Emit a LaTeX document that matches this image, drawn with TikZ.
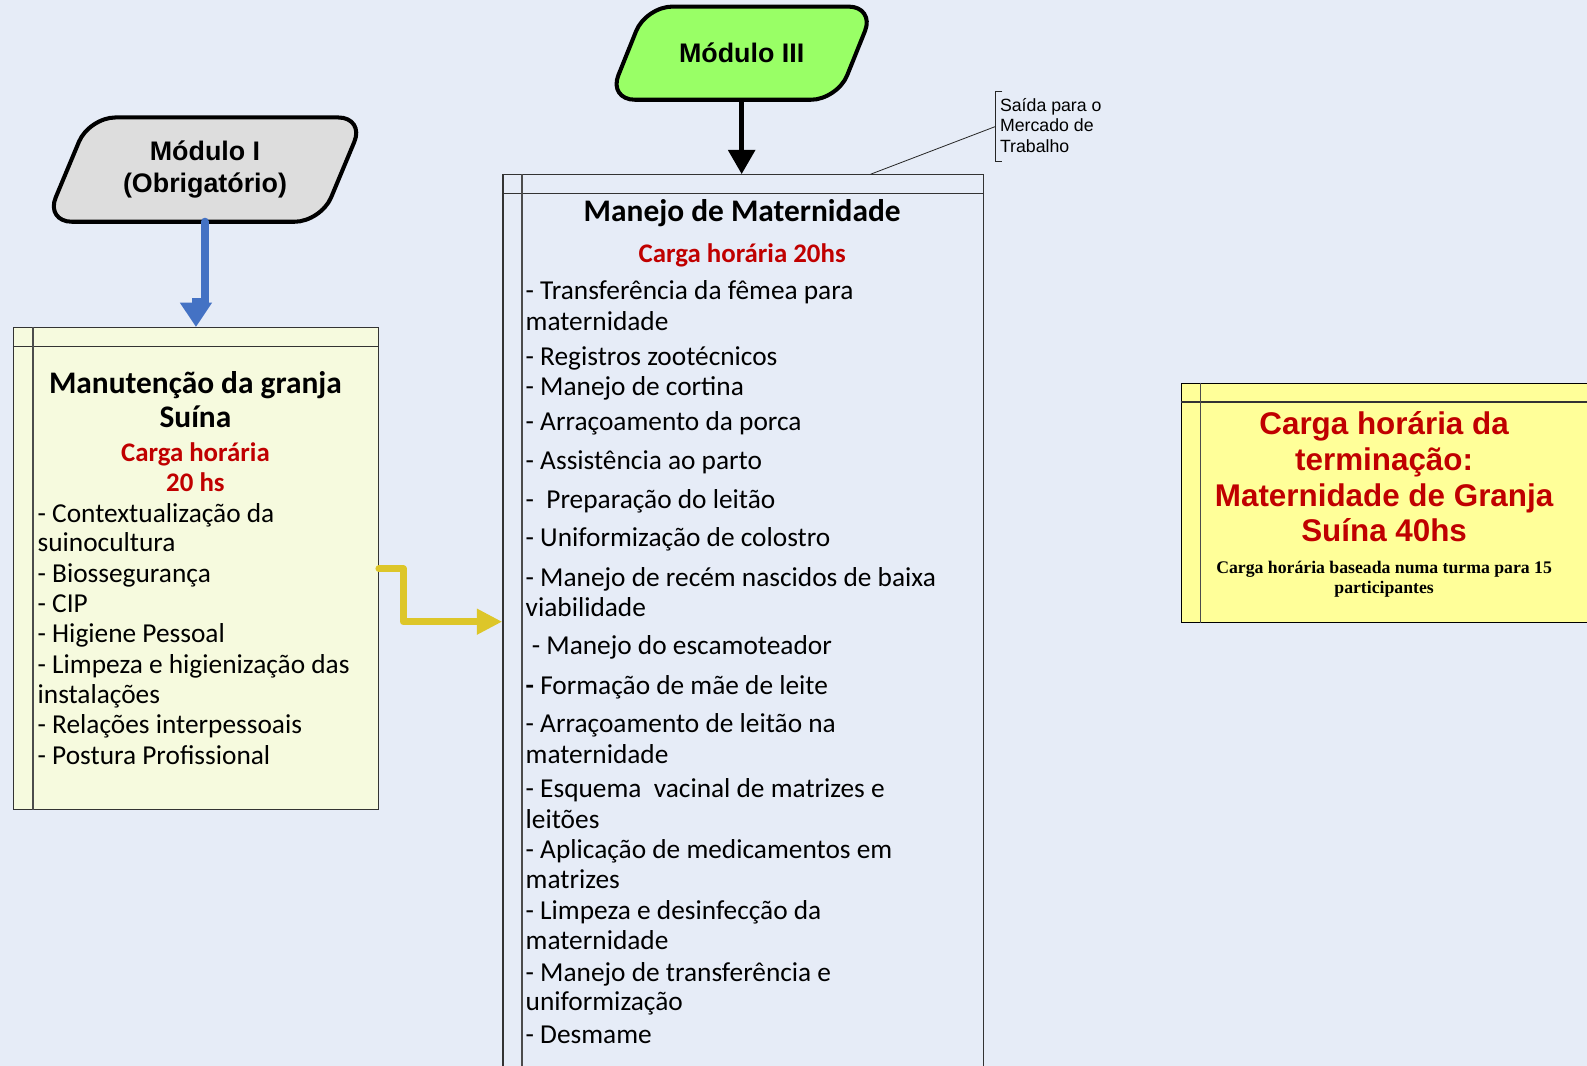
\documentclass[tikz,border=0pt]{standalone}
\usepackage{fontspec}
\setmainfont{Carlito}
\newfontfamily\arialFont{Liberation Sans}
\newfontfamily\timesFont{Liberation Serif}
\usetikzlibrary{arrows.meta}

\definecolor{bgBlue}{RGB}{230,236,247}
\definecolor{modGray}{RGB}{221,221,221}
\definecolor{modGreen}{RGB}{153,255,102}
\definecolor{boxCream}{RGB}{246,250,222}
\definecolor{boxYellow}{RGB}{255,255,153}
\definecolor{darkRed}{RGB}{192,0,0}
\definecolor{arrowBlue}{RGB}{68,114,196}
\definecolor{arrowYellow}{RGB}{221,198,41}

\tikzset{
  moduleArea/.style={inner sep=0pt, outer sep=2pt},
  moduleLine/.style={draw=black, line width=4pt, rounded corners=26pt},
  moduleText/.style={align=center, inner sep=0pt,
    font=\arialFont\bfseries\fontsize{26.5pt}{31pt}\selectfont},
  boxFrame/.style={draw=black!80, line width=1.3pt, anchor=north west, inner sep=0pt},
  headLine/.style={draw=black!80, line width=1.3pt},
  sideLine/.style={draw=black!70, line width=1.6pt},
  titleText/.style={anchor=mid, yshift=-7pt, inner sep=0pt, font=\bfseries\fontsize{31pt}{34pt}\selectfont},
  redText/.style={anchor=mid, yshift=-7pt, inner sep=0pt, text=darkRed, font=\bfseries\fontsize{26.5pt}{30pt}\selectfont},
  itemText/.style={anchor=mid west, yshift=-6.5pt, inner sep=0pt, font=\fontsize{27pt}{30pt}\selectfont},
  blueArrow/.style={draw=arrowBlue, line width=8pt, line cap=round, -{Triangle[length=24pt,width=30pt]}},
  blackArrow/.style={draw=black, line width=5pt, -{Triangle[length=24pt,width=26pt]}},
  yellowArrow/.style={draw=arrowYellow, line width=7pt, line cap=round, line join=round, -{Triangle[length=25pt,width=24pt]}},
  calloutLine/.style={draw=black!85, line width=0.8pt},
  calloutText/.style={anchor=west, align=left, inner sep=0pt, font=\arialFont\fontsize{17.5pt}{20pt}\selectfont},
  loadText/.style={align=center, yshift=-3pt, inner sep=0pt, text=darkRed, font=\arialFont\bfseries\fontsize{31pt}{35.3pt}\selectfont},
  noteText/.style={align=center, yshift=-3pt, inner sep=0pt, font=\timesFont\bfseries\fontsize{17.5pt}{20pt}\selectfont}
}

\begin{document}
\begin{tikzpicture}[x=1pt,y=-1pt]
  \newcommand{\headDrop}{19pt}  % header strip
  \newcommand{\sideGap}{19.8pt} % side strip

  \useasboundingbox (0,0) rectangle (1567.4,1052.8);
  \clip (0,0) rectangle (1567.4,1052.8);
  \fill[bgBlue] (0,0) rectangle (1567.4,1052.8); % background

  % modules
  \node[moduleArea, minimum width=311pt, minimum height=99pt] (mod1) at (202.5,167.5) {};
  \draw[moduleLine, fill=modGray] ([xshift=43pt]mod1.north west) -- (mod1.north east)
    -- ([xshift=-43pt]mod1.south east) -- (mod1.south west) -- cycle;
  \node[moduleText] (mod1Text) at (mod1.center) {Módulo I\\(Obrigatório)};

  \node[moduleArea, minimum width=259pt, minimum height=88pt] (mod3) at (732.5,52.5) {};
  \draw[moduleLine, fill=modGreen] ([xshift=37pt]mod3.north west) -- (mod3.north east)
    -- ([xshift=-37pt]mod3.south east) -- (mod3.south west) -- cycle;
  \node[moduleText] (mod3Text) at (mod3.center) {Módulo III};

  % boxes
  \node[boxFrame, fill=boxCream, minimum width=360.2pt, minimum height=476pt] (manut) at (12.8,323) {};
  \node[boxFrame, minimum width=475pt, minimum height=900pt] (mater) at (496,172) {};
  \node[boxFrame, draw=black, fill=boxYellow, minimum width=450pt, minimum height=236pt] (termino) at (1166,378) {};

  \foreach \b in {manut,mater,termino}{
    \draw[headLine] ([yshift=-\headDrop]\b.north west) -- ([yshift=-\headDrop]\b.north east);
    \draw[sideLine] ([xshift=\sideGap]\b.north west) -- ([xshift=\sideGap]\b.south west);
  }

  % left box text
  \node[titleText] (manutTitleA) at (193,379) {Manutenção da granja};
  \node[titleText] (manutTitleB) at (193,413) {Suína};
  \node[redText] (manutLoadA) at (193,446) {Carga horária};
  \node[redText] (manutLoadB) at (193,476) {20 hs};
  \foreach \y/\txt [count=\i] in {507/{- Contextualização da}, 536/{suinocultura},
      566/{- Biossegurança}, 596/{- CIP}, 626/{- Higiene Pessoal},
      656/{- Limpeza e higienização das}, 686/{instalações},
      716/{- Relações interpessoais}, 746/{- Postura Profissional}}
    \node[itemText] (manutItem\i) at (37,\y) {\txt};

  % middle box text
  \node[titleText] (materTitle) at (733,209) {Manejo de Maternidade};
  \node[redText] (materLoad) at (733,250) {Carga horária 20hs};
  \foreach \y/\txt [count=\i] in {287/{- Transferência da fêmea para}, 318/{maternidade},
      352/{- Registros zootécnicos}, 382/{- Manejo de cortina},
      416/{- Arraçoamento da porca}, 455/{- Assistência ao parto},
      493/{- \ Preparação do leitão}, 531/{- Uniformização de colostro},
      570/{- Manejo de recém nascidos de baixa}, 600/{viabilidade},
      638/{\ - Manejo do escamoteador}, 677/{\textbf{-} Formação de mãe de leite},
      715/{- Arraçoamento de leitão na}, 745/{maternidade},
      779/{- Esquema \ vacinal de matrizes e}, 809/{leitões},
      839/{- Aplicação de medicamentos em}, 869/{matrizes},
      899/{- Limpeza e desinfecção da}, 929/{maternidade},
      960/{- Manejo de transferência e}, 989/{uniformização},
      1022/{- Desmame}}
    \node[itemText] (materItem\i) at (519,\y) {\txt};

  % right box text
  \node[loadText] (termLoad) at (1367,468) {Carga horária da\\terminação:\\Maternidade de Granja\\Suína 40hs};
  \node[noteText] (termNote) at (1367,569) {Carga horária baseada numa turma para 15\\participantes};

  % callout
  \coordinate (calloutFoot) at (860,172);
  \coordinate (calloutEnd) at (983,125);
  \draw[calloutLine] (calloutFoot) -- (calloutEnd);
  \draw[calloutLine] (990,90.5) -- (983,90.5) -- (983,159) -- (990,159); % bracket
  \node[calloutText] (saida) at (987.5,124) {Saída para o\\Mercado de\\Trabalho};

  % arrows
  \coordinate (materEntry) at (496,614);
  \draw[blueArrow] (mod1.south) -- ++(0,79) -| (manut.north);
  \draw[blackArrow] (mod3.south) -- (mod3.south |- mater.north);
  \draw[yellowArrow] (manut.east) -- ++(24,0) |- (materEntry);
\end{tikzpicture}
\end{document}
